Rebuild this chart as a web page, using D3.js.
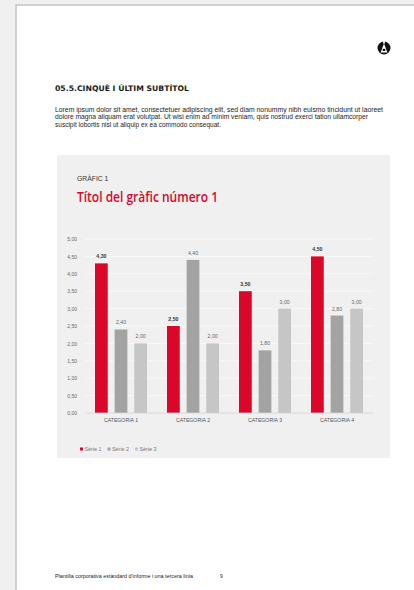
<!DOCTYPE html>
<html><head><meta charset="utf-8">
<script src="https://cdn.jsdelivr.net/npm/d3@7/dist/d3.min.js"></script>
<style>html,body{margin:0;padding:0;background:#f0f0f0;}svg{display:block;}</style>
</head><body>
<script>
const categories = ["CATEGORIA 1", "CATEGORIA 2", "CATEGORIA 3", "CATEGORIA 4"];
const seriesNames = ["Sèrie 1", "Sèrie 2", "Sèrie 3"];
const serie1 = [4.30, 2.50, 3.50, 4.50];
const serie2 = [2.40, 4.40, 1.80, 2.80];
const serie3 = [2.00, 2.00, 3.00, 3.00];
const yTicks = [0, 0.5, 1, 1.5, 2, 2.5, 3, 3.5, 4, 4.5, 5];
const colors = ["#d9082a", "#a3a3a3", "#c6c6c6"];

const W = 414, H = 590;
const svg = d3.select("body").append("svg").attr("width", W).attr("height", H);

// page
svg.append("rect").attr("x", 0).attr("y", 0).attr("width", W).attr("height", H).attr("fill", "#f0f0f0");
svg.append("rect").attr("x", 16).attr("y", 5).attr("width", W).attr("height", H).attr("fill", "#fff")
  .attr("stroke", "#c4c4c4").attr("stroke-width", 1.5);

// logo
const logo = svg.append("g").attr("transform", "translate(384,48)");
logo.append("circle").attr("r", 6.5).attr("fill", "#111");
logo.append("path").attr("d", "M-3.4,4.6 L0,-4.6 L3.4,4.6 Z").attr("fill", "#fff");
logo.append("rect").attr("x", -1.3).attr("y", 0.8).attr("width", 2.6).attr("height", 2.2).attr("fill", "#111");
logo.append("rect").attr("x", -0.9).attr("y", -6.8).attr("width", 1.8).attr("height", 2.4).attr("fill", "#fff");

// heading
svg.append("text").attr("x", 55).attr("y", 91).attr("font-family", "DejaVu Sans").attr("font-weight", "bold")
  .attr("font-size", 7.6).attr("fill", "#1a1a1a").attr("textLength", 134).attr("lengthAdjust", "spacingAndGlyphs")
  .text("05.5.CINQUÈ I ÚLTIM SUBTÍTOL");

const para = [
  "Lorem ipsum dolor sit amet, consectetuer adipiscing elit, sed diam nonummy nibh euismo tincidunt ut laoreet",
  "dolore magna aliquam erat volutpat. Ut wisi enim ad minim veniam, quis nostrud exerci tation ullamcorper",
  "suscipit lobortis nisl ut aliquip ex ea commodo consequat."
];
const paraW = [328, 313, 166];
para.forEach((t, i) => {
  svg.append("text").attr("x", 55).attr("y", 112 + i * 7.3).attr("font-family", "Liberation Sans")
    .attr("font-size", 6.3).attr("fill", "#222").attr("textLength", paraW[i]).attr("lengthAdjust", "spacingAndGlyphs").text(t);
});

// chart panel
svg.append("rect").attr("x", 57).attr("y", 155).attr("width", 333).attr("height", 303).attr("fill", "#f0f0f0");
svg.append("text").attr("x", 77).attr("y", 181).attr("font-family", "Liberation Sans").attr("font-size", 6.8)
  .attr("fill", "#333").text("GRÀFIC 1");
svg.append("text").attr("x", 77).attr("y", 202).attr("font-family", "Open Sans").attr("font-size", 13.5)
  .attr("font-weight", 600).attr("fill", "#d9082a").attr("textLength", 141).attr("lengthAdjust", "spacingAndGlyphs")
  .text("Títol del gràfic número 1");

const x0 = d3.scaleBand().domain(categories).range([85, 373]).paddingInner(0).paddingOuter(0);
const y = d3.scaleLinear().domain([0, 5]).range([413, 239]);
const x1 = d3.scaleBand().domain(seriesNames).range([0, 52]).paddingInner(0.35).paddingOuter(0);

const g = svg.append("g");
// grid
g.selectAll("line.grid").data(yTicks.filter(d => d > 0)).join("line")
  .attr("x1", 85).attr("x2", 373).attr("y1", d => y(d)).attr("y2", d => y(d))
  .attr("stroke", "#fafafa").attr("stroke-width", 0.8);

const yAxis = d3.axisLeft(y).tickValues(yTicks).tickSize(0).tickPadding(8)
  .tickFormat(d => d3.format(".2f")(d).replace(".", ","));
const ya = g.append("g").attr("transform", "translate(85,0)").call(yAxis);
ya.select(".domain").remove();
ya.selectAll("text").attr("font-family", "Liberation Sans").attr("font-size", 5).attr("fill", "#666");

const data = categories.map((c, i) => ({ c, vals: [serie1[i], serie2[i], serie3[i]] }));
const grp = g.selectAll("g.cat").data(data).join("g")
  .attr("transform", d => `translate(${x0(d.c) + (x0.bandwidth() - 52) / 2},0)`);
grp.selectAll("rect").data(d => d.vals.map((v, j) => ({ v, s: seriesNames[j], j }))).join("rect")
  .attr("x", d => x1(d.s)).attr("width", x1.bandwidth())
  .attr("y", d => y(d.v)).attr("height", d => y(0) - y(d.v)).attr("fill", d => colors[d.j]);
grp.selectAll("text").data(d => d.vals.map((v, j) => ({ v, s: seriesNames[j], j }))).join("text")
  .attr("x", d => x1(d.s) + x1.bandwidth() / 2).attr("y", d => y(d.v) - 5)
  .attr("text-anchor", "middle").attr("font-family", "Liberation Sans").attr("font-size", 5.2)
  .attr("font-weight", d => d.j === 0 ? "bold" : "normal").attr("fill", d => d.j === 0 ? "#333" : "#666")
  .text(d => d3.format(".2f")(d.v).replace(".", ","));

// baseline
g.append("line").attr("x1", 85).attr("x2", 373).attr("y1", y(0)).attr("y2", y(0)).attr("stroke", "#d6d6d6").attr("stroke-width", 0.8);

const xAxis = d3.axisBottom(x0).tickSize(0).tickPadding(5);
const xa = g.append("g").attr("transform", `translate(0,${y(0)})`).call(xAxis);
xa.select(".domain").remove();
xa.selectAll("text").attr("font-family", "Liberation Sans").attr("font-size", 5.2).attr("fill", "#555");

// legend
const legX = [80, 107.5, 135];
const leg = svg.append("g");
seriesNames.forEach((s, i) => {
  leg.append("rect").attr("x", legX[i]).attr("y", 447.5).attr("width", 3).attr("height", 3).attr("fill", colors[i]);
  leg.append("text").attr("x", legX[i] + 4.5).attr("y", 451).attr("font-family", "Liberation Sans")
    .attr("font-size", 5.4).attr("fill", "#777").text(s);
});

// footer
svg.append("text").attr("x", 55).attr("y", 578).attr("font-family", "Liberation Sans").attr("font-size", 4.8)
  .attr("fill", "#222").attr("textLength", 138).attr("lengthAdjust", "spacingAndGlyphs")
  .text("Plantilla corporativa estàndard d'informe i una tercera línia");
svg.append("text").attr("x", 220).attr("y", 578).attr("font-family", "Liberation Sans").attr("font-size", 5)
  .attr("fill", "#222").text("9");
</script>
</body></html>
